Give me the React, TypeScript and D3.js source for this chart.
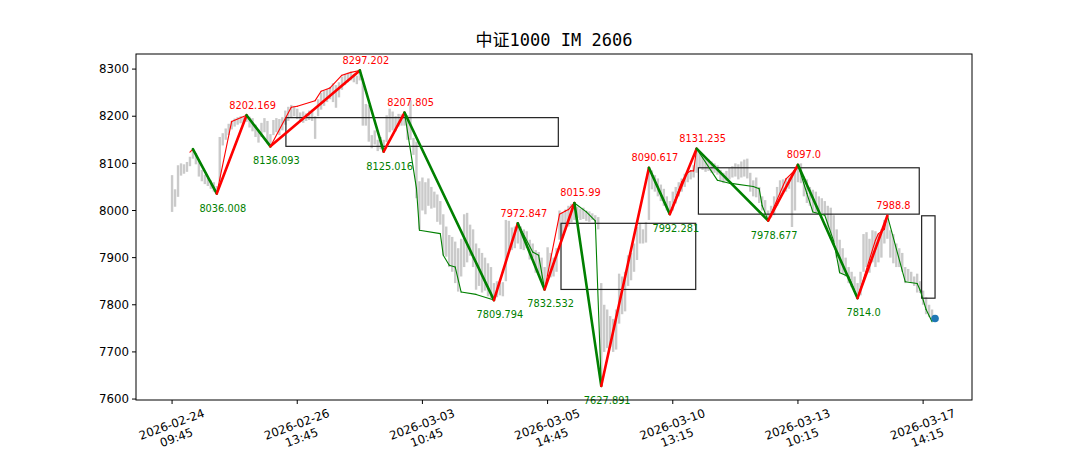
import { scaleLinear } from "d3";
import type { FC } from "react";

// 15-min bars, index 0 = 2026-02-24 09:45
const barHigh = [
  8075, 8045, 8096, 8100, 8098, 8103, 8114, 8130, 8122, 8107, 8086, 8076, 8070, 8064, 8060, 8052,
  8156, 8164, 8174, 8184, 8190, 8195, 8198, 8200, 8198, 8202, 8199, 8196, 8182, 8172, 8186, 8196,
  8190, 8162, 8192, 8196, 8194, 8198, 8212, 8220, 8224, 8222, 8216, 8208, 8210, 8206, 8212, 8214,
  8200, 8236, 8250, 8254, 8258, 8262, 8270, 8266, 8272, 8284, 8290, 8292, 8294, 8290, 8286, 8297,
  8280, 8226, 8224, 8160, 8170, 8150, 8156, 8150, 8202, 8216, 8210, 8200, 8205, 8204, 8207, 8202,
  8234, 8154, 8146, 8062, 8070, 8060, 8068, 8050, 8040, 8034, 8020, 7992, 7966, 7948, 7944, 7934,
  7920, 7940, 7992, 7995, 7970, 7960, 7930, 7920, 7910, 7900, 7888, 7880, 7846, 7850, 7846, 7848,
  7980, 7978, 7964, 7966, 7972, 7966, 7960, 7956, 7938, 7930, 7916, 7912, 7900, 7880, 7922, 7910,
  7900, 7920, 8000, 7996, 8002, 8010, 8014, 8016, 8008, 8004, 8006, 8000, 7998, 7994, 7990, 7986,
  7846, 7800, 7790, 7776, 7770, 7790, 7866, 7860, 7870, 7905, 7910, 7930, 7965, 7972, 7960, 7975,
  8090, 8085, 8075, 8068, 8055, 8046, 8030, 8020, 8040, 8050, 8060, 8068, 8078, 8084, 8086, 8096,
  8131, 8122, 8118, 8112, 8108, 8104, 8100, 8096, 8086, 8080, 8084, 8090, 8094, 8100, 8098, 8104,
  8108, 8110, 8080, 8064, 8070, 8050, 8030, 8022, 8000, 8010, 8030, 8050, 8064, 8066, 8068, 8070,
  8080, 8084, 8097, 8100, 8072, 8066, 8050, 8044, 8040, 8030, 8026, 8020, 8010, 8006, 7990, 7960,
  7938, 7920, 7900, 7880, 7870, 7860, 7846, 7870, 7950, 7954, 7940, 7958, 7956, 7950, 7960, 7980,
  7989, 7958, 7950, 7930, 7920, 7910, 7880, 7876, 7870, 7860, 7866, 7850, 7830, 7816, 7800, 7790,
];
const barLow = [
  7997, 8008, 8029, 8074, 8078, 8082, 8094, 8110, 8098, 8072, 8062, 8056, 8052, 8046, 8040, 8036,
  8062, 8138, 8150, 8160, 8172, 8178, 8182, 8185, 8186, 8188, 8176, 8168, 8156, 8144, 8156, 8166,
  8142, 8136, 8160, 8166, 8160, 8170, 8182, 8190, 8196, 8200, 8194, 8188, 8186, 8190, 8192, 8190,
  8152, 8200, 8214, 8222, 8230, 8236, 8230, 8218, 8240, 8256, 8266, 8272, 8276, 8272, 8268, 8276,
  8180, 8180, 8146, 8132, 8140, 8126, 8130, 8125, 8145, 8166, 8170, 8168, 8178, 8180, 8180, 8150,
  8150, 8118, 8026, 7960, 8000, 7992, 8010, 8004, 8006, 7976, 7970, 7906, 7902, 7880, 7870, 7846,
  7828, 7860, 7880, 7890, 7904, 7880, 7832, 7840, 7826, 7830, 7818, 7814, 7810, 7816, 7820, 7818,
  7850, 7910, 7916, 7920, 7930, 7918, 7916, 7920, 7896, 7900, 7868, 7866, 7850, 7832, 7860, 7858,
  7860, 7870, 7938, 7945, 7960, 7966, 7975, 7980, 7984, 7980, 7982, 7978, 7976, 7980, 7972, 7960,
  7628, 7700, 7708, 7710, 7700, 7705, 7760, 7780, 7786, 7840, 7852, 7870, 7895, 7930, 7930, 7932,
  7980, 8045, 8040, 8030, 8020, 8010, 8000, 7992, 8000, 8015, 8030, 8040, 8050, 8060, 8066, 8070,
  8080, 8090, 8086, 8082, 8084, 8080, 8080, 8076, 8062, 8058, 8062, 8066, 8070, 8072, 8066, 8070,
  8072, 8068, 8040, 8030, 8028, 8016, 8000, 7990, 7979, 7985, 7990, 8010, 8030, 8036, 8040, 8046,
  7965, 8000, 8060, 8058, 8030, 8016, 8010, 7998, 7994, 7992, 7994, 7990, 7960, 7940, 7934, 7900,
  7870, 7866, 7860, 7846, 7838, 7830, 7814, 7820, 7870, 7880, 7868, 7890, 7880, 7890, 7900, 7930,
  7940, 7900, 7888, 7880, 7880, 7870, 7846, 7850, 7846, 7840, 7826, 7825, 7800, 7780, 7774, 7768,
];

// main zigzag
const pivotIdx = [7, 15, 25, 33, 63, 71, 78, 108, 116, 125, 135, 144, 160, 167, 176, 200, 210, 230, 240];
const pivotVal = [
  8130, 8036.008, 8202.169, 8136.093, 8297.202, 8125.016, 8207.805, 7809.794, 7972.847, 7832.532,
  8015.99, 7627.891, 8090.617, 7992.281, 8131.235, 7978.677, 8097.0, 7814.0, 7988.8,
];
const pivotLabel = [
  "", "8036.008", "8202.169", "8136.093", "8297.202", "8125.016", "8207.805", "7809.794", "7972.847",
  "7832.532", "8015.99", "7627.891", "8090.617", "7992.281", "8131.235", "7978.677", "8097.0",
  "7814.0", "7988.8",
];

// finer zigzag
const subIdx = [
  6, 7, 15, 20, 25, 33, 40, 42, 48, 50, 53, 57, 60, 63, 71, 78, 82, 83, 90, 91, 93, 95, 97, 102, 108,
  116, 121, 123, 125, 130, 132, 133, 135, 139, 142, 144, 160, 167, 171, 173, 174, 175, 176, 183, 187,
  195, 197, 198, 200, 206, 208, 210, 213, 215, 219, 222, 224, 227, 230, 236, 237, 239, 240, 246, 250,
  251, 253, 255,
];
const subVal = [
  8124, 8130, 8036, 8189, 8202, 8136, 8219, 8221, 8233, 8253, 8260, 8287, 8293, 8297, 8125, 8207,
  8047, 7958, 7951, 7905, 7884, 7880, 7827, 7822, 7810, 7973, 7912, 7905, 7832, 7992, 7999, 8002,
  8016, 7997, 7978, 7628, 8091, 7992, 8061, 8080, 8084, 8084, 8131, 8064, 8058, 8051, 8046, 8010,
  7979, 8067, 8079, 8097, 8036, 7997, 7990, 7935, 7868, 7860, 7814, 7937, 7951, 7960, 7989, 7849,
  7845, 7831, 7790, 7764,
];

// pivot boxes
const boxStart = [38.2, 130.5, 176.6, 251.5];
const boxEnd = [129.6, 175.7, 250.7, 256];
const boxTop = [8197, 7972.847, 8090.617, 7988.8];
const boxBottom = [8136.093, 7832.532, 7992.281, 7814.0];

const lastPriceIdx = 256;
const lastPrice = 7771;

const xTickIdx = [0, 42, 84, 126, 168, 210, 252];
const xTickDate = ["2026-02-24", "2026-02-26", "2026-03-03", "2026-03-05", "2026-03-10", "2026-03-13", "2026-03-17"];
const xTickTime = ["09:45", "13:45", "10:45", "14:45", "13:15", "10:15", "14:15"];

const title = "中证1000 IM 2606";

const W = 1080;
const H = 450;
const left = 136;
const right = 972;
const top = 54;
const bottom = 400;

const RED = "#ff0000";
const GREEN = "#008000";
const FONT = "DejaVu Sans, sans-serif";

const App: FC = () => {
  const x = scaleLinear().domain([-12.1, 268.4]).range([left, right]);
  const y = scaleLinear().domain([7598, 8332]).range([bottom, top]);

  const subSegs = subIdx.slice(1).map((i, k) => ({
    x1: x(subIdx[k]),
    y1: y(subVal[k]),
    x2: x(i),
    y2: y(subVal[k + 1]),
    up: subVal[k + 1] >= subVal[k],
  }));

  const pivotSegs = pivotIdx.slice(1).map((i, k) => ({
    x1: x(pivotIdx[k]),
    y1: y(pivotVal[k]),
    x2: x(i),
    y2: y(pivotVal[k + 1]),
    up: pivotVal[k + 1] > pivotVal[k],
  }));

  return (
    <svg
      width={W}
      height={H}
      style={{ position: "absolute", left: 0, top: 0, background: "#fff" }}
    >
      <rect width={W} height={H} fill="#fff" />
      <text
        x={(left + right) / 2}
        y={46}
        textAnchor="middle"
        fontFamily="DejaVu Sans Mono, Noto Sans CJK SC, monospace"
        fontSize={17}
        fill="#000"
      >
        {title}
      </text>

      <defs>
        <clipPath id="plot">
          <rect x={left} y={top} width={right - left} height={bottom - top} />
        </clipPath>
      </defs>

      <g clipPath="url(#plot)">
        {/* bars */}
        {barHigh.map((h, i) => (
          <rect
            key={i}
            x={x(i) - 1.2}
            y={y(h)}
            width={2.4}
            height={Math.max(1, y(barLow[i]) - y(h))}
            fill="#cacaca"
          />
        ))}

        {/* boxes */}
        {boxStart.map((s, k) => (
          <rect
            key={k}
            x={x(s)}
            y={y(boxTop[k])}
            width={x(boxEnd[k]) - x(s)}
            height={y(boxBottom[k]) - y(boxTop[k])}
            fill="none"
            stroke="#222"
            strokeWidth={1.2}
          />
        ))}

        {/* finer zigzag */}
        {subSegs.map((s, k) => (
          <line
            key={k}
            x1={s.x1}
            y1={s.y1}
            x2={s.x2}
            y2={s.y2}
            stroke={s.up ? RED : GREEN}
            strokeWidth={1.1}
            strokeLinecap="round"
          />
        ))}

        {/* main zigzag */}
        {pivotSegs.map((s, k) => (
          <line
            key={k}
            x1={s.x1}
            y1={s.y1}
            x2={s.x2}
            y2={s.y2}
            stroke={s.up ? RED : GREEN}
            strokeWidth={2.6}
            strokeLinecap="round"
          />
        ))}

        <circle cx={x(lastPriceIdx)} cy={y(lastPrice)} r={3.8} fill="#1f77b4" />
      </g>

      {/* pivot labels */}
      {pivotLabel.map((t, k) => {
        if (!t) return null;
        const isHigh = pivotVal[k] > pivotVal[k - 1];
        const px = x(pivotIdx[k]);
        const py = y(pivotVal[k]);
        return (
          <text
            key={k}
            x={px + 6}
            y={isHigh ? py - 6.5 : py + 18}
            textAnchor="middle"
            fontFamily={FONT}
            fontSize={9.8}
            fill={isHigh ? RED : GREEN}
          >
            {t}
          </text>
        );
      })}

      {/* frame */}
      <rect
        x={left}
        y={top}
        width={right - left}
        height={bottom - top}
        fill="none"
        stroke="#000"
        strokeWidth={1}
      />

      {/* y axis */}
      {y.ticks(8).map((v) => (
        <g key={v} transform={`translate(0,${y(v)})`}>
          <line x1={left - 4} x2={left} stroke="#000" />
          <text
            x={left - 7}
            dy="0.35em"
            textAnchor="end"
            fontFamily={FONT}
            fontSize={11.8}
            fill="#000"
          >
            {v}
          </text>
        </g>
      ))}

      {/* x axis */}
      {xTickIdx.map((i, k) => (
        <g key={i}>
          <line x1={x(i)} x2={x(i)} y1={bottom} y2={bottom + 4} stroke="#000" />
          <g transform={`translate(${x(i) + 2},${431}) rotate(-20)`}>
            <text
              textAnchor="middle"
              fontFamily={FONT}
              fontSize={11.8}
              fill="#000"
            >
              <tspan x={0} y={-3}>
                {xTickDate[k]}
              </tspan>
              <tspan x={0} y={11}>
                {xTickTime[k]}
              </tspan>
            </text>
          </g>
        </g>
      ))}
    </svg>
  );
};

export default App;
